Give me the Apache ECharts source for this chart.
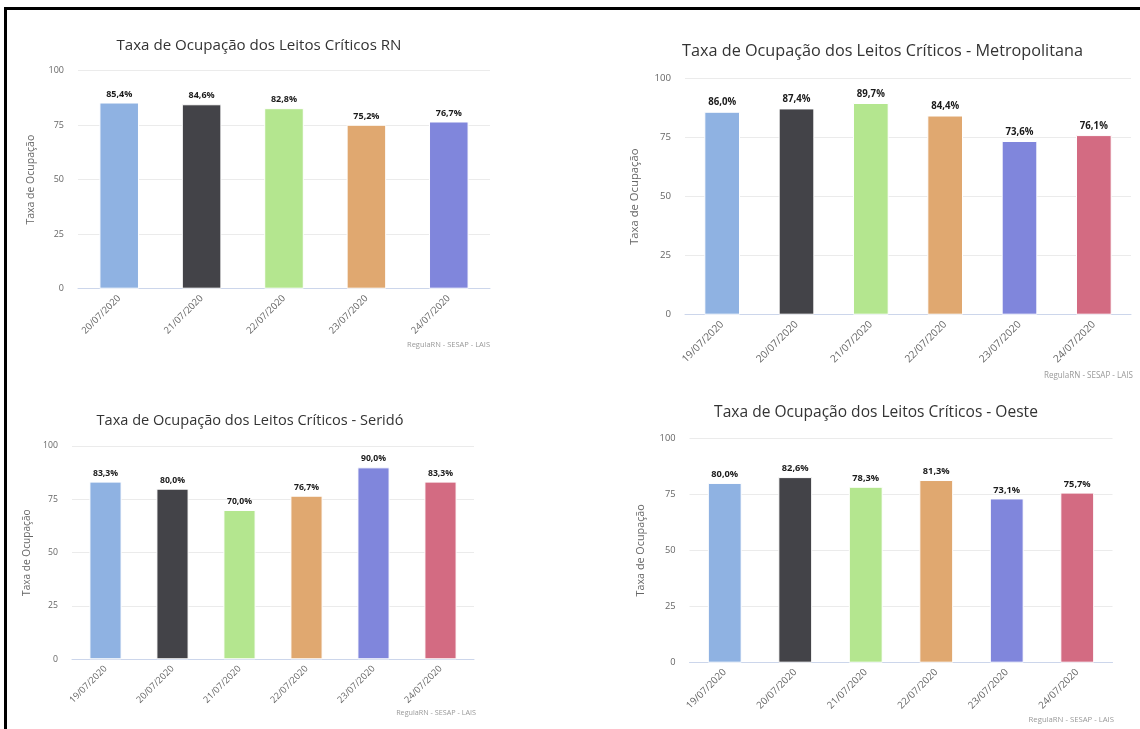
<!DOCTYPE html>
<html>
<head>
<meta charset="utf-8">
<script src="https://cdn.jsdelivr.net/npm/echarts@6/dist/echarts.min.js"></script>
<style>
  html, body { margin: 0; padding: 0; background: #ffffff; }
  #wrap { position: relative; width: 1140px; height: 729px; overflow: hidden; background: #fff; }
  #frame { position: absolute; left: 4px; top: 7px; width: 1140px; height: 729px;
           border-top: 3px solid #000; border-left: 3px solid #000; box-sizing: border-box; }
  #chart { position: absolute; left: 0; top: 0; width: 1140px; height: 729px; }
</style>
</head>
<body>
<div id="wrap">
  <div id="frame"></div>
  <div id="chart"></div>
</div>
<script>
// ---- data ----
const datasRN = ['20/07/2020', '21/07/2020', '22/07/2020', '23/07/2020', '24/07/2020'];
const datasRegioes = ['19/07/2020', '20/07/2020', '21/07/2020', '22/07/2020', '23/07/2020', '24/07/2020'];
const valoresRN = [85.4, 84.6, 82.8, 75.2, 76.7];
const valoresMetropolitana = [86.0, 87.4, 89.7, 84.4, 73.6, 76.1];
const valoresSerido = [83.3, 80.0, 70.0, 76.7, 90.0, 83.3];
const valoresOeste = [80.0, 82.6, 78.3, 81.3, 73.1, 75.7];
const titulos = [
  'Taxa de Ocupação dos Leitos Críticos RN',
  'Taxa de Ocupação dos Leitos Críticos - Metropolitana',
  'Taxa de Ocupação dos Leitos Críticos - Seridó',
  'Taxa de Ocupação dos Leitos Críticos - Oeste'
];
const nomeEixoY = 'Taxa de Ocupação';
const creditos = 'RegulaRN - SESAP - LAIS';
const eixoYMin = 0, eixoYMax = 100, eixoYIntervalo = 25;

// ---- styles / layout ----
const paleta = ['#8fb2e2', '#434348', '#b4e68f', '#e0a870', '#8086dc', '#d36b82'];
const FONT = '"Open Sans", "DejaVu Sans", sans-serif';
const paineis = [
  { cats: datasRN, vals: valoresRN, s: 1.0,
    grid: { left: 78, top: 70.7, width: 412, height: 218 },
    titleX: 259, titleY: 38, nameGap: 41, credX: 490, credY: 345 },
  { cats: datasRegioes, vals: valoresMetropolitana, s: 1.075,
    grid: { left: 685, top: 78.7, width: 446, height: 236 },
    titleX: 882.5, titleY: 43, nameGap: 45, credX: 1133, credY: 376 },
  { cats: datasRegioes, vals: valoresSerido, s: 0.965,
    grid: { left: 72, top: 446, width: 402, height: 213.3 },
    titleX: 250, titleY: 413, nameGap: 40, credX: 476, credY: 713 },
  { cats: datasRegioes, vals: valoresOeste, s: 1.03,
    grid: { left: 689.5, top: 438, width: 423, height: 224.7 },
    titleX: 876, titleY: 404.5, nameGap: 43, credX: 1114, credY: 720 }
];

const fmt = v => v.toFixed(1).replace('.', ',') + '%';

const option = {
  animation: false,
  backgroundColor: 'transparent',
  textStyle: { fontFamily: FONT },
  title: paineis.map((p, i) => ({
    text: titulos[i],
    left: p.titleX, top: p.titleY, textAlign: 'center', padding: 0,
    textStyle: { fontFamily: FONT, fontSize: 15.1 * p.s, fontWeight: 'normal', color: '#333333' }
  })),
  grid: paineis.map(p => Object.assign({ containLabel: false }, p.grid)),
  xAxis: paineis.map((p, i) => ({
    type: 'category', gridIndex: i, data: p.cats,
    axisLine: { lineStyle: { color: '#ccd6eb', width: 1 } },
    axisTick: { alignWithLabel: true, length: 7, lineStyle: { color: '#ccd6eb' } },
    axisLabel: { rotate: 45, margin: 8, fontFamily: FONT, fontSize: 9.5 * p.s, color: '#666666', interval: 0 },
    splitLine: { show: false }
  })),
  yAxis: paineis.map((p, i) => ({
    type: 'value', gridIndex: i, min: eixoYMin, max: eixoYMax, interval: eixoYIntervalo,
    name: nomeEixoY, nameLocation: 'middle', nameGap: p.nameGap, nameRotate: 90,
    nameTextStyle: { fontFamily: FONT, fontSize: 10.5 * p.s, color: '#666666' },
    axisLine: { show: false }, axisTick: { show: false },
    axisLabel: { margin: 14, fontFamily: FONT, fontSize: 9 * p.s, color: '#666666' },
    splitLine: { lineStyle: { color: '#ebebeb', width: 1 } }
  })),
  series: paineis.map((p, i) => ({
    type: 'bar', xAxisIndex: i, yAxisIndex: i,
    data: p.vals,
    barWidth: '48%',
    itemStyle: {
      color: params => paleta[params.dataIndex % paleta.length],
      borderColor: '#ffffff', borderWidth: 1
    },
    label: {
      show: true, position: 'top', distance: 4,
      formatter: params => fmt(params.value),
      fontFamily: FONT, fontWeight: 'bold', fontSize: 9 * p.s, color: '#1a1a1a',
      textBorderColor: '#ffffff', textBorderWidth: 1
    }
  })),
  graphic: paineis.map(p => ({
    type: 'text', x: p.credX, y: p.credY,
    style: { text: creditos, fontFamily: FONT, fontSize: 7.5 * p.s, fill: '#999999',
             textAlign: 'right', textVerticalAlign: 'middle' }
  }))
};

const chart = echarts.init(document.getElementById('chart'), null, { renderer: 'canvas' });
chart.setOption(option);
</script>
</body>
</html>
